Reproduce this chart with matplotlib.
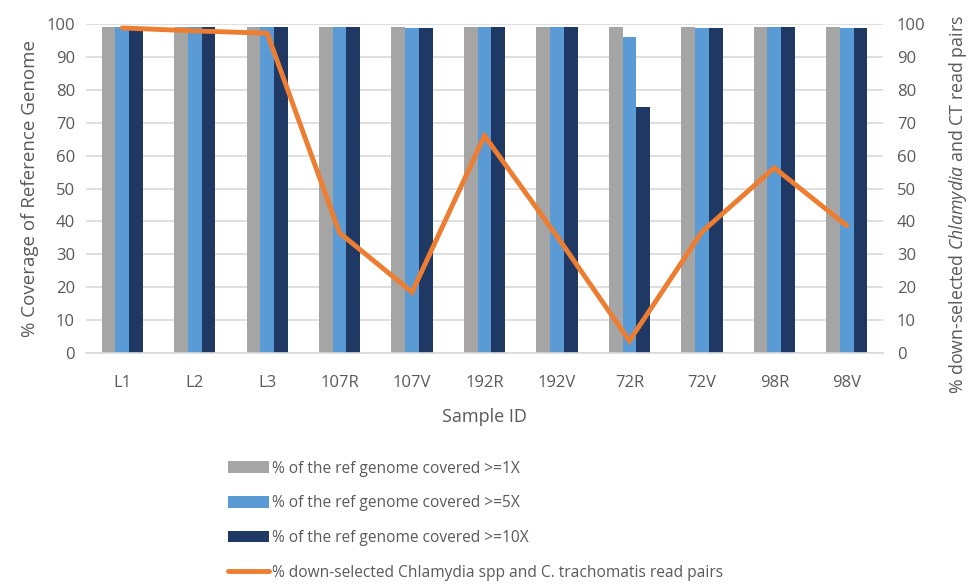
import matplotlib
matplotlib.use("Agg")
import matplotlib.pyplot as plt
import numpy as np
from matplotlib.patches import Patch
from matplotlib.lines import Line2D

plt.rcParams['font.family'] = ['Open Sans', 'DejaVu Sans']
plt.rcParams['mathtext.fontset'] = 'custom'
plt.rcParams['mathtext.it'] = 'Open Sans:italic'
plt.rcParams['mathtext.rm'] = 'Open Sans'

samples = ["L1", "L2", "L3", "107R", "107V", "192R", "192V", "72R", "72V", "98R", "98V"]
cov_1x = [99.0, 99.0, 99.0, 99.0, 99.0, 99.0, 99.0, 99.0, 99.0, 99.0, 99.0]
cov_5x = [99.0, 99.0, 99.0, 99.0, 98.9, 99.0, 99.0, 96.2, 98.9, 99.0, 98.9]
cov_10x = [99.0, 99.0, 99.0, 99.0, 98.7, 99.0, 99.0, 74.8, 98.7, 99.0, 98.8]
read_pairs = [98.8, 97.9, 97.2, 36.5, 18.5, 66.0, 35.5, 3.7, 36.8, 56.3, 38.7]

grey = "#A5A5A5"
blue = "#5B9BD5"
navy = "#203864"
orange = "#ED7D31"
text_col = "#595959"

fig = plt.figure(figsize=(9.7, 5.84), dpi=100)
ax = fig.add_axes([0.0887, 0.3955, 0.8216, 0.5634])
x = np.arange(len(samples))
w = 0.19
ax.bar(x - w, cov_1x, w, color=grey, zorder=2)
ax.bar(x, cov_5x, w, color=blue, zorder=2)
ax.bar(x + w, cov_10x, w, color=navy, zorder=2)

ax.set_xlim(-0.5, len(samples) - 0.5)
ax.set_ylim(0, 100)
ax.set_yticks(range(0, 101, 10))
ax.yaxis.grid(True, color="#D9D9D9", linewidth=1.2, zorder=0)
ax.set_axisbelow(True)
for s in ["top", "right", "left"]:
    ax.spines[s].set_visible(False)
ax.spines["bottom"].set_color("#D9D9D9")
ax.spines["bottom"].set_linewidth(1.2)
ax.tick_params(axis="y", length=0, labelsize=12, colors=text_col, pad=8)
ax.tick_params(axis="x", length=0, labelsize=12, colors=text_col, pad=16)
ax.set_xticks(x)
ax.set_xticklabels(samples)
ax.set_xlabel("Sample ID", fontsize=13, color=text_col, labelpad=12)
ax.set_ylabel("% Coverage of Reference Genome", fontsize=13.5, color=text_col, labelpad=5)

ax2 = ax.twinx()
ax2.plot(x, read_pairs, color=orange, linewidth=3.5, solid_capstyle="round",
         solid_joinstyle="miter", zorder=3)
ax2.set_ylim(0, 100)
ax2.set_yticks(range(0, 101, 10))
for s in ["top", "right", "left", "bottom"]:
    ax2.spines[s].set_visible(False)
ax2.tick_params(axis="y", length=0, labelsize=12, colors=text_col, pad=10)
fig.text(0.9876, 0.649, r"% down-selected $\mathit{Chlamydia}$ and CT read pairs",
         fontsize=12.8, color=text_col, rotation=90, ha="center", va="center",
         rotation_mode="anchor")

handles = [
    Patch(facecolor=grey, label="% of the ref genome covered >=1X"),
    Patch(facecolor=blue, label="% of the ref genome covered >=5X"),
    Patch(facecolor=navy, label="% of the ref genome covered >=10X"),
    Line2D([0], [0], color=orange, linewidth=3.5, solid_capstyle="round",
           label="% down-selected Chlamydia spp and C. trachomatis read pairs"),
]
leg = fig.legend(handles=handles, loc="upper left", bbox_to_anchor=(0.229, 0.222),
                 frameon=False, fontsize=11.2, labelspacing=1.2, handlelength=2.6,
                 handleheight=0.75, handletextpad=0.2, borderaxespad=0)
for t in leg.get_texts():
    t.set_color(text_col)

fig.savefig("out.png", dpi=100)
